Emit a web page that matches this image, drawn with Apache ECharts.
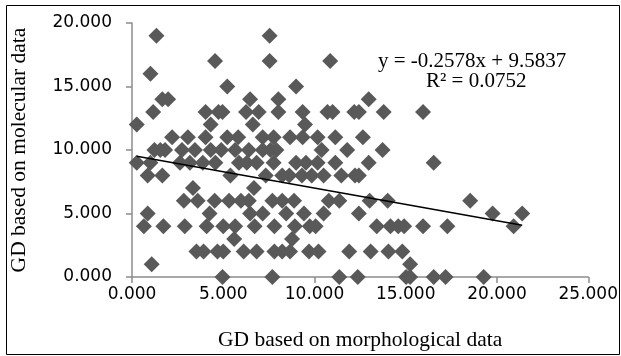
<!DOCTYPE html>
<html>
<head>
<meta charset="utf-8">
<script src="https://cdn.jsdelivr.net/npm/echarts@6/dist/echarts.min.js"></script>
<style>html,body{margin:0;padding:0;background:#fff}#c{width:621px;height:356px}</style>
</head>
<body>
<div id="c"></div>
<script>
// Data
const xValues = [
  1.34, 7.54,
  4.55, 7.54, 10.86,
  1.01,
  5.22, 8.99,
  1.66, 1.98, 6.47, 8.02, 12.97,
  1.16, 4.03, 4.74, 4.96, 6.25, 6.94, 8.02, 9.35, 10.71, 10.99, 12.18, 12.43, 13.79, 15.95,
  0.26, 4.31, 6.62, 9.48,
  2.2, 3.06, 4.03, 5.22, 5.82, 7.16, 7.76, 8.66, 9.35, 10.17, 11.14, 12.65,
  1.23, 1.55, 1.81, 2.74, 3.45, 4.31, 4.89, 5.65, 6.4, 7.16, 7.59, 7.91, 10.39, 11.79, 13.73,
  0.26, 1.01, 2.63, 3.17, 3.88, 4.57, 5.86, 6.29, 6.83, 7.76, 8.99, 9.53, 10.17, 11.14, 12.97, 16.53,
  0.86, 1.66, 5.39, 7.33, 8.23, 8.62, 9.31, 9.85, 10.5, 11.47, 12.22, 12.43,
  3.34, 6.68,
  2.84, 3.6, 4.53, 5.32, 5.97, 6.4, 7.69, 8.23, 8.88, 10.78, 11.36, 13.02, 14.01, 18.53,
  0.86, 4.25, 6.47, 7.16, 8.45, 9.42, 10.5, 12.43, 19.76, 21.38,
  0.65, 1.72, 2.89, 4.09, 5.0, 5.65, 6.72, 7.8, 8.92, 9.74, 10.06, 13.41, 14.16, 14.59, 14.91, 15.95, 17.28, 20.91,
  5.6, 8.77,
  3.53, 3.92, 4.68, 5.0, 6.12, 6.83, 7.8, 8.23, 8.66, 9.7, 10.22, 11.9, 13.08, 14.05, 14.81,
  1.08, 15.24,
  4.96, 7.69, 11.36, 12.37, 15.02, 15.24, 16.53, 17.18, 19.27
];
const yValues = [
  19, 19,
  17, 17, 17,
  16,
  15, 15,
  14, 14, 14, 14, 14,
  13, 13, 13, 13, 13, 13, 13, 13, 13, 13, 13, 13, 13, 13,
  12, 12, 12, 12,
  11, 11, 11, 11, 11, 11, 11, 11, 11, 11, 11, 11,
  10, 10, 10, 10, 10, 10, 10, 10, 10, 10, 10, 10, 10, 10, 10,
  9, 9, 9, 9, 9, 9, 9, 9, 9, 9, 9, 9, 9, 9, 9, 9,
  8, 8, 8, 8, 8, 8, 8, 8, 8, 8, 8, 8,
  7, 7,
  6, 6, 6, 6, 6, 6, 6, 6, 6, 6, 6, 6, 6, 6,
  5, 5, 5, 5, 5, 5, 5, 5, 5, 5,
  4, 4, 4, 4, 4, 4, 4, 4, 4, 4, 4, 4, 4, 4, 4, 4, 4, 4,
  3, 3,
  2, 2, 2, 2, 2, 2, 2, 2, 2, 2, 2, 2, 2, 2, 2,
  1, 1,
  0, 0, 0, 0, 0, 0, 0, 0, 0
];
const trendSlope = -0.2578;
const trendIntercept = 9.5837;
const equationText = 'y = -0.2578x + 9.5837';
const r2Text = 'R² = 0.0752';
const xTitle = 'GD based on morphological data';
const yTitle = 'GD based on molecular data';

const points = xValues.map((x, i) => [x, yValues[i]]);
const xMin = Math.min(...xValues), xMax = Math.max(...xValues);
const trend = [[xMin, trendSlope * xMin + trendIntercept], [xMax, trendSlope * xMax + trendIntercept]];

const chart = echarts.init(document.getElementById('c'), null, {renderer: 'canvas'});
const axisCol = '#8c8c8c';
const tickFont = {color: '#000', fontFamily: 'DejaVu Sans', fontSize: 17};
chart.setOption({
  animation: false,
  backgroundColor: '#fff',
  grid: {left: 129, right: 29, top: 23, bottom: 79, containLabel: false},
  xAxis: {
    type: 'value', min: 0, max: 25, interval: 5,
    axisLine: {show: true, lineStyle: {color: axisCol, width: 1.5}},
    axisTick: {show: true, length: 6, lineStyle: {color: axisCol, width: 1.5}},
    splitLine: {show: false},
    axisLabel: Object.assign({margin: 9, formatter: v => v.toFixed(3)}, tickFont),
    name: xTitle, nameLocation: 'middle', nameGap: 52,
    nameTextStyle: {fontFamily: 'Liberation Serif', fontSize: 21.5, color: '#000'}
  },
  yAxis: {
    type: 'value', min: 0, max: 20, interval: 5,
    axisLine: {show: true, lineStyle: {color: axisCol, width: 1.5}},
    axisTick: {show: true, length: 6, lineStyle: {color: axisCol, width: 1.5}},
    splitLine: {show: false},
    axisLabel: Object.assign({margin: 20, formatter: v => v.toFixed(3)}, tickFont),
    name: yTitle, nameLocation: 'middle', nameGap: 102, nameRotate: 90,
    nameTextStyle: {fontFamily: 'Liberation Serif', fontSize: 21.5, color: '#000'}
  },
  graphic: [
    {type: 'rect', shape: {x: 6.5, y: 5.5, width: 613, height: 349}, style: {fill: 'none', stroke: '#000', lineWidth: 1}, z: 100},
    {type: 'text', left: 378, top: 51, style: {text: equationText, font: '21px "Liberation Serif"', fill: '#000'}, z: 100},
    {type: 'text', left: 426, top: 71, style: {text: r2Text, font: '21px "Liberation Serif"', fill: '#000'}, z: 100}
  ],
  series: [
    {
      type: 'scatter', data: points, symbol: 'diamond', symbolSize: 16,
      itemStyle: {color: '#595959', opacity: 1}, z: 2
    },
    {
      type: 'line', data: trend, symbol: 'none', silent: true,
      lineStyle: {color: '#000', width: 1.5}, z: 3
    }
  ]
});
</script>
</body>
</html>
